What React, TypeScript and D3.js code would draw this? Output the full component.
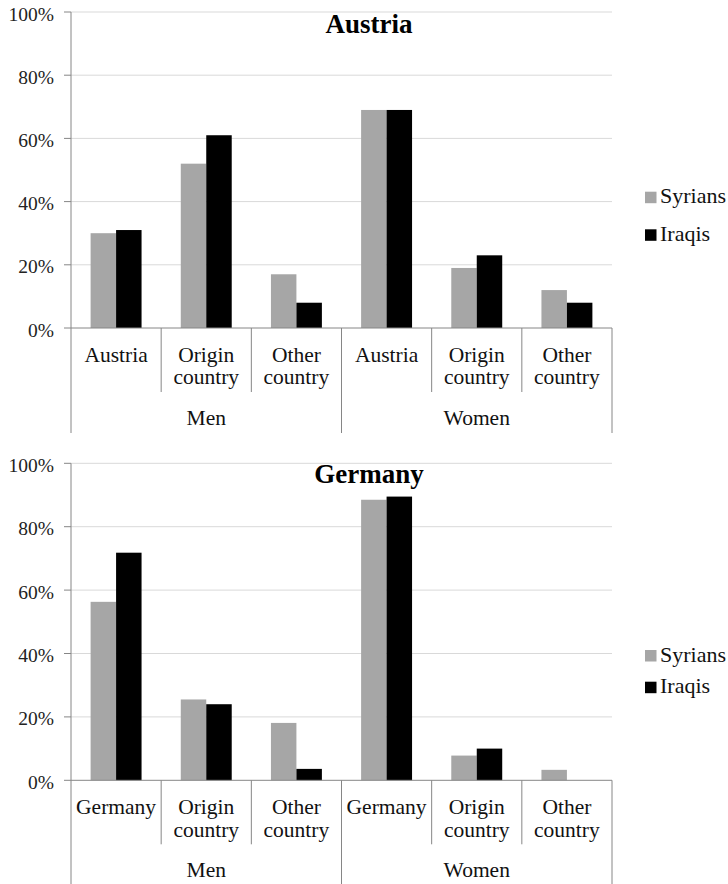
import React from "react";
import * as d3 from "d3";

const categories = ["Men|Austria", "Men|Origin", "Men|Other", "Women|Austria", "Women|Origin", "Women|Other"];
const series = ["Syrians", "Iraqis"];
const seriesColors = ["#a6a6a6", "#000000"];
const groups = ["Men", "Women"];
const yTicks = [0, 0.2, 0.4, 0.6, 0.8, 1.0];

const austriaLabels = [["Austria"], ["Origin", "country"], ["Other", "country"], ["Austria"], ["Origin", "country"], ["Other", "country"]];
const germanyLabels = [["Germany"], ["Origin", "country"], ["Other", "country"], ["Germany"], ["Origin", "country"], ["Other", "country"]];

const austriaSyrians = [0.30, 0.52, 0.17, 0.69, 0.19, 0.12];
const austriaIraqis = [0.31, 0.61, 0.08, 0.69, 0.23, 0.08];
const germanySyrians = [0.563, 0.255, 0.181, 0.885, 0.078, 0.033];
const germanyIraqis = [0.718, 0.24, 0.036, 0.895, 0.10, 0.0];

const FONT = "Liberation Serif, Times New Roman, serif";
const X0 = 71;
const X1 = 612;

type PanelProps = {
  title: string;
  y0: number;
  y100: number;
  labels: string[][];
  values: number[][];
  legendY: number[];
  titleY: number;
};

function Panel({ title, y0, y100, labels, values, legendY, titleY }: PanelProps) {
  const x = d3.scaleBand<string>().domain(categories).range([X0, X1]).padding(0);
  const step = x.step();
  const inner = d3.scaleBand<string>().domain(series).range([step * 0.2175, step * 0.7825]).padding(0);
  const y = d3.scaleLinear().domain([0, 1]).range([y0, y100]);
  const fmt = d3.format(".0%");
  const boundaries = d3.range(categories.length + 1).map((i) => X0 + i * step);

  return (
    <g style={{ fontFamily: FONT }}>
      {yTicks.map((t) => (
        <g key={t}>
          {t > 0 && <line x1={X0} x2={X1} y1={y(t)} y2={y(t)} stroke="#d9d9d9" strokeWidth={1} />}
          <line x1={X0 - 7} x2={X0} y1={y(t)} y2={y(t)} stroke="#868686" strokeWidth={1} />
          <text x={54} y={y(t) + 8.5} textAnchor="end" fontSize={19.5} fill="#222">
            {fmt(t)}
          </text>
        </g>
      ))}
      {series.map((s, si) =>
        categories.map((c, ci) => (
          <rect
            key={s + c}
            x={(x(c) as number) + (inner(s) as number)}
            y={y(values[si][ci])}
            width={inner.bandwidth()}
            height={y0 - y(values[si][ci])}
            fill={seriesColors[si]}
          />
        ))
      )}
      <line x1={X0} x2={X0} y1={y100} y2={y0} stroke="#868686" strokeWidth={1} />
      <line x1={X0} x2={X1} y1={y0} y2={y0} stroke="#868686" strokeWidth={1} />
      {boundaries.map((bx, i) => {
        const outer = i % 3 === 0;
        return (
          <line key={i} x1={bx} x2={bx} y1={y0} y2={y0 + (outer ? 105 : 64)} stroke="#868686" strokeWidth={1} />
        );
      })}
      {categories.map((c, ci) => (
        <text key={c} textAnchor="middle" fontSize={21.5} fill="#111">
          {labels[ci].map((ln, li) => (
            <tspan key={li} x={(x(c) as number) + step / 2} y={y0 + 33.5 + li * 22.8}>
              {ln}
            </tspan>
          ))}
        </text>
      ))}
      {groups.map((g, gi) => (
        <text key={g} x={X0 + step * (gi * 3 + 1.5)} y={y0 + 97} textAnchor="middle" fontSize={21.5} fill="#111">
          {g}
        </text>
      ))}
      <text x={369} y={titleY} textAnchor="middle" fontWeight="bold" fontSize={27} fill="#000">
        {title}
      </text>
      {series.map((s, si) => (
        <g key={s}>
          <rect x={645} y={legendY[si]} width={11.5} height={11.5} fill={seriesColors[si]} />
          <text x={660} y={legendY[si] + 11.5} fontSize={22} fill="#111">
            {s}
          </text>
        </g>
      ))}
    </g>
  );
}

export default function App() {
  return (
    <svg width={728} height={884} style={{ position: "absolute", left: 0, top: 0, background: "#fff" }}>
      <rect x={0} y={0} width={728} height={884} fill="#fff" />
      <Panel
        title="Austria"
        y0={328}
        y100={12}
        labels={austriaLabels}
        values={[austriaSyrians, austriaIraqis]}
        legendY={[191.7, 229.3]}
        titleY={33.3}
      />
      <Panel
        title="Germany"
        y0={780.3}
        y100={463.3}
        labels={germanyLabels}
        values={[germanySyrians, germanyIraqis]}
        legendY={[650, 681.7]}
        titleY={483}
      />
    </svg>
  );
}
